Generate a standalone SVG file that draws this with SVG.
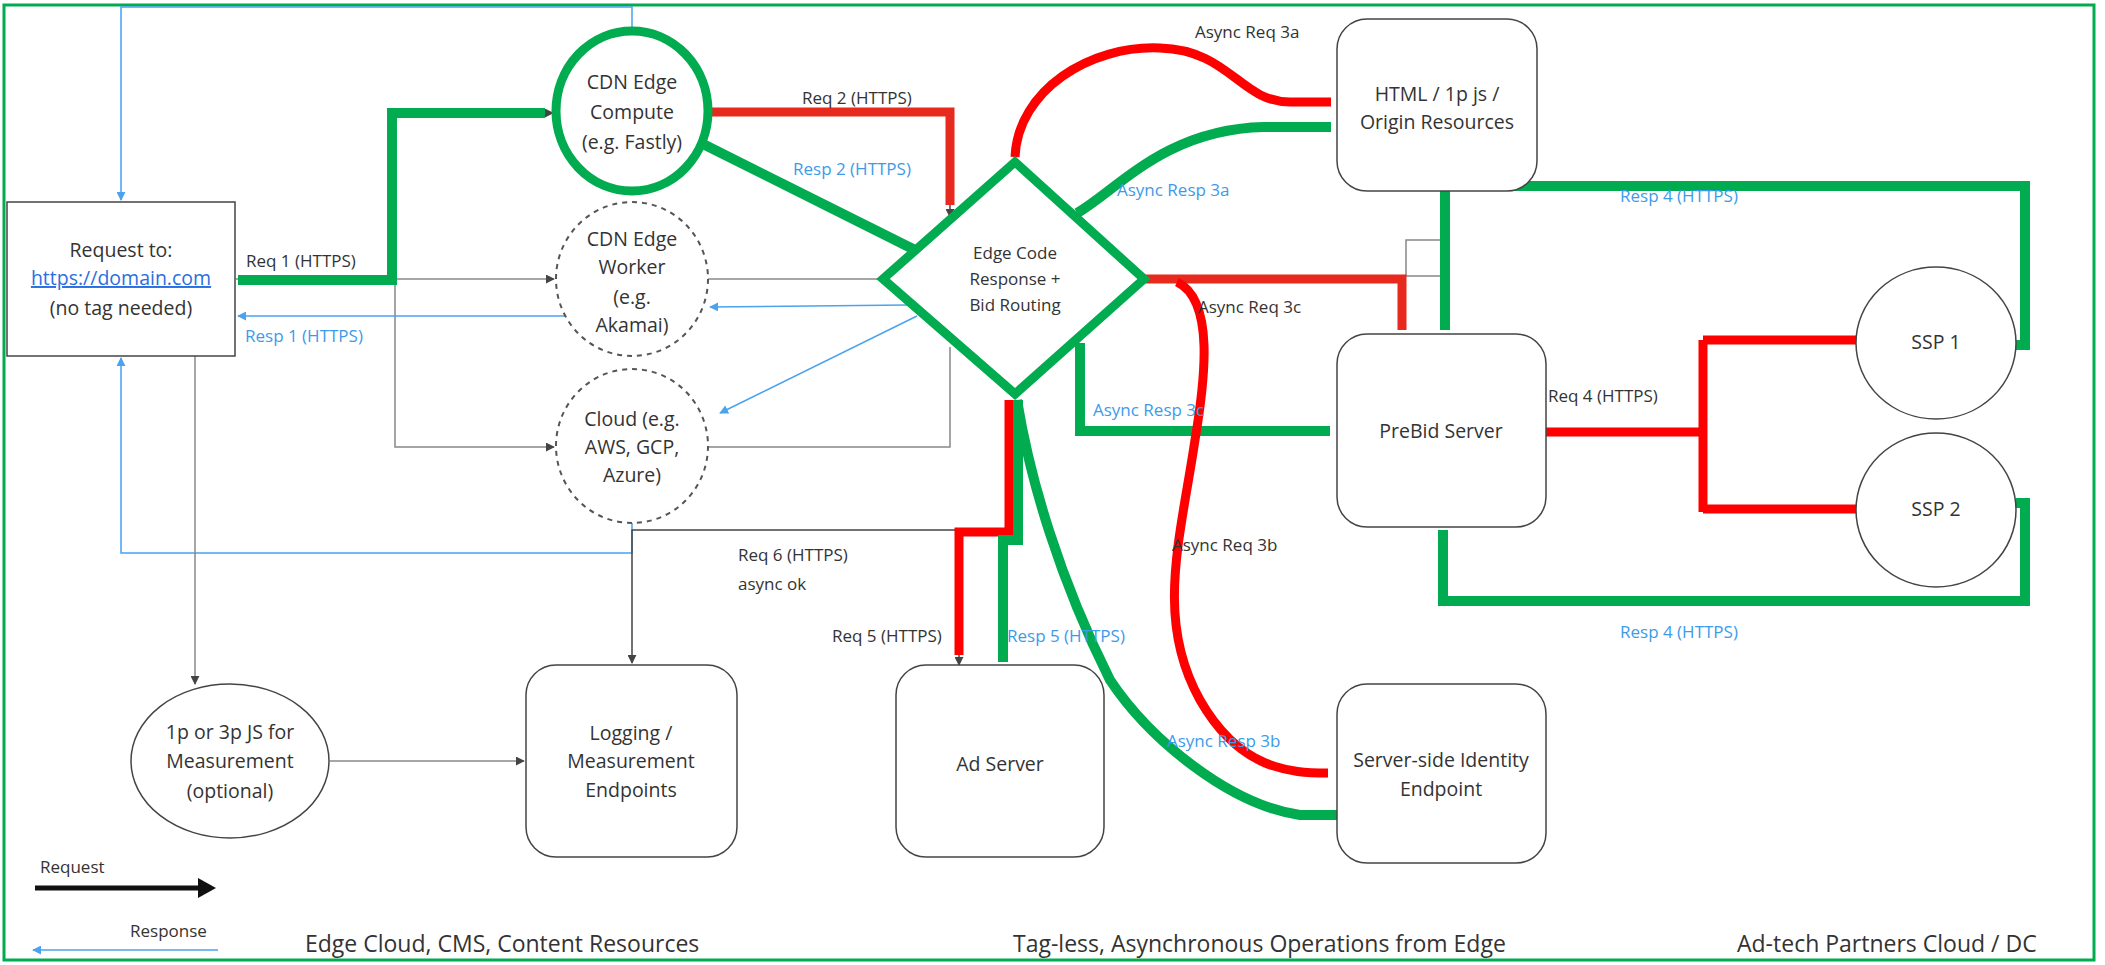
<svg xmlns="http://www.w3.org/2000/svg" width="2105" height="965" viewBox="0 0 2105 965">
<style>
text{font-family:"Open Sans","Liberation Sans",sans-serif;fill:#333}
.n{font-size:19.5px}
.l{font-size:17px}
.b{fill:#3d9be9}
.s{font-size:23px}
.node{fill:#fff;stroke:#444;stroke-width:1.5}
.dash{fill:#fff;stroke:#555;stroke-width:2;stroke-dasharray:5 5}
.g{fill:none;stroke:#00ac4f;stroke-width:10}
.r{fill:none;stroke:#f00;stroke-width:9}
.bl{fill:none;stroke:#4aa3ec;stroke-width:1.5}
.gr{fill:none;stroke:#888;stroke-width:1.5}
.dk{fill:none;stroke:#444;stroke-width:1.5}
</style>
<defs>
<marker id="ab" viewBox="0 0 10 10" refX="9" refY="5" markerWidth="6" markerHeight="6" orient="auto"><path d="M0,0L10,5L0,10z" fill="#4aa3ec"/></marker>
<marker id="ak" viewBox="0 0 10 10" refX="9" refY="5" markerWidth="6" markerHeight="6" orient="auto"><path d="M0,0L10,5L0,10z" fill="#444"/></marker>
</defs>
<rect x="4" y="5" width="2090" height="955" fill="#fff" stroke="#00ac4f" stroke-width="3"/>
<g id="connectors">
<path class="bl" d="M632,30V7H121V200" marker-end="url(#ab)"/>
<path class="gr" d="M236,279H554" marker-end="url(#ak)"/>
<path class="gr" d="M395,279V447H554" marker-end="url(#ak)"/>
<path class="gr" d="M708,279H883"/>
<path class="gr" d="M708,447H950V347"/>
<path class="gr" d="M1445,240H1406V276H1445"/>
<path class="bl" d="M565,316H238" marker-end="url(#ab)"/>
<path class="bl" d="M907,305L710,307" marker-end="url(#ab)"/>
<path class="bl" d="M917,316L720,413" marker-end="url(#ab)"/>
<path class="bl" d="M632,523V553H121V358" marker-end="url(#ab)"/>
<path class="dk" d="M955,530H632V663" marker-end="url(#ak)"/>
<path class="gr" d="M195,356V684" marker-end="url(#ak)"/>
<path class="gr" d="M330,761H524" marker-end="url(#ak)"/>
<path class="g" d="M238,280H392V113H545"/>
<path class="dk" d="M545,113H553" marker-end="url(#ak)"/>
<path class="r" d="M707,112H950V205" style="stroke:#e8291e"/>
<path class="dk" d="M950,205V217" marker-end="url(#ak)"/>
<path class="g" d="M705,145L915,250"/>
<path class="r" d="M1015,157C1018,90 1090,45 1160,48C1230,50 1240,102 1290,102L1331,102"/>
<path class="g" d="M1331,127H1264C1220,128 1190,140 1170,150C1130,170 1100,200 1077,213"/>
<path class="r" d="M1144,279H1402V330" style="stroke:#e8291e"/>
<path class="g" d="M1445,330V186H2025V345H2016"/>
<path class="r" d="M1546,432H1703M1703,340V512M1703,340H1856M1703,509H1856"/>
<path class="g" d="M1443,530V601H2025V503H2016"/>
<path class="g" d="M1330,431H1080V343"/>
<path class="r" d="M1177,282C1215,300 1205,380 1195,440C1180,540 1155,620 1200,700C1240,770 1290,773 1328,773"/>
<path class="g" d="M1337,815L1300,815C1230,805 1150,740 1110,680C1060,580 1030,480 1017,400"/>
<path class="r" d="M1009,400V532H959V655"/>
<path class="dk" d="M959,655V665" marker-end="url(#ak)"/>
<path class="g" d="M1003,662V540H1018V400"/>
<path d="M35,888H200" stroke="#111" stroke-width="5" fill="none"/>
<path d="M198,878L216,888L198,898z" fill="#111"/>
<path class="bl" d="M218,950H33" stroke-width="3" marker-end="url(#ab)"/>
</g>
<g id="request"><rect class="node" x="7" y="202" width="228" height="154" stroke-width="2"/>
<text class="n" x="121" y="257" text-anchor="middle">Request to:</text>
<text class="n" x="121" y="285" text-anchor="middle" style="fill:#2a6fe0;text-decoration:underline">https://domain.com</text>
<text class="n" x="121" y="315" text-anchor="middle">(no tag needed)</text></g>
<g id="cdn-compute"><ellipse cx="632" cy="111" rx="76" ry="80" fill="#fff" stroke="#00ac4f" stroke-width="9"/>
<text class="n" x="632" y="89" text-anchor="middle">CDN Edge</text><text class="n" x="632" y="119" text-anchor="middle">Compute</text><text class="n" x="632" y="149" text-anchor="middle">(e.g. Fastly)</text></g>
<g id="cdn-worker"><ellipse class="dash" cx="632" cy="279" rx="76" ry="77"/>
<text class="n" x="632" y="246" text-anchor="middle">CDN Edge</text><text class="n" x="632" y="274" text-anchor="middle">Worker</text><text class="n" x="632" y="304" text-anchor="middle">(e.g.</text><text class="n" x="632" y="332" text-anchor="middle">Akamai)</text></g>
<g id="cloud"><ellipse class="dash" cx="632" cy="446" rx="76" ry="77"/>
<text class="n" x="632" y="426" text-anchor="middle">Cloud (e.g.</text><text class="n" x="632" y="454" text-anchor="middle">AWS, GCP,</text><text class="n" x="632" y="482" text-anchor="middle">Azure)</text></g>
<g id="diamond"><path d="M1015,162L1144,279L1015,394L883,279z" fill="#fff" stroke="#00ac4f" stroke-width="9"/>
<text class="l" x="1015" y="259" text-anchor="middle">Edge Code</text><text class="l" x="1015" y="285" text-anchor="middle">Response +</text><text class="l" x="1015" y="311" text-anchor="middle">Bid Routing</text></g>
<g id="html"><rect class="node" x="1337" y="19" width="200" height="172" rx="30"/>
<text class="n" x="1437" y="101" text-anchor="middle">HTML / 1p js /</text><text class="n" x="1437" y="129" text-anchor="middle">Origin Resources</text></g>
<g id="prebid"><rect class="node" x="1337" y="334" width="209" height="193" rx="30"/>
<text class="n" x="1441" y="438" text-anchor="middle">PreBid Server</text></g>
<g id="ssp1"><ellipse class="node" cx="1936" cy="343" rx="80" ry="76"/><text class="n" x="1936" y="349" text-anchor="middle">SSP 1</text></g>
<g id="ssp2"><ellipse class="node" cx="1936" cy="510" rx="80" ry="77"/><text class="n" x="1936" y="516" text-anchor="middle">SSP 2</text></g>
<g id="identity"><rect class="node" x="1337" y="684" width="209" height="179" rx="30"/>
<text class="n" x="1441" y="767" text-anchor="middle">Server-side Identity</text><text class="n" x="1441" y="796" text-anchor="middle">Endpoint</text></g>
<g id="adserver"><rect class="node" x="896" y="665" width="208" height="192" rx="30"/>
<text class="n" x="1000" y="771" text-anchor="middle">Ad Server</text></g>
<g id="logging"><rect class="node" x="526" y="665" width="211" height="192" rx="30"/>
<text class="n" x="631" y="740" text-anchor="middle">Logging /</text><text class="n" x="631" y="768" text-anchor="middle">Measurement</text><text class="n" x="631" y="797" text-anchor="middle">Endpoints</text></g>
<g id="js"><ellipse class="node" cx="230" cy="761" rx="99" ry="77"/>
<text class="n" x="230" y="739" text-anchor="middle">1p or 3p JS for</text><text class="n" x="230" y="768" text-anchor="middle">Measurement</text><text class="n" x="230" y="798" text-anchor="middle">(optional)</text></g>
<g id="labels">
<text class="l" x="246" y="267">Req 1 (HTTPS)</text>
<text class="l b" x="245" y="342">Resp 1 (HTTPS)</text>
<text class="l" x="802" y="104">Req 2 (HTTPS)</text>
<text class="l b" x="793" y="175">Resp 2 (HTTPS)</text>
<text class="l" x="1195" y="38">Async Req 3a</text>
<text class="l b" x="1117" y="196">Async Resp 3a</text>
<text class="l" x="1198" y="313">Async Req 3c</text>
<text class="l b" x="1093" y="416">Async Resp 3c</text>
<text class="l b" x="1620" y="202">Resp 4 (HTTPS)</text>
<text class="l" x="1548" y="402">Req 4 (HTTPS)</text>
<text class="l b" x="1620" y="638">Resp 4 (HTTPS)</text>
<text class="l" x="1172" y="551">Async Req 3b</text>
<text class="l b" x="1167" y="747">Async Resp 3b</text>
<text class="l" x="738" y="561">Req 6 (HTTPS)</text>
<text class="l" x="738" y="590">async ok</text>
<text class="l" x="832" y="642">Req 5 (HTTPS)</text>
<text class="l b" x="1007" y="642">Resp 5 (HTTPS)</text>
<text class="l" x="40" y="873">Request</text>
<text class="l" x="130" y="937">Response</text>
<text class="s" x="305" y="952">Edge Cloud, CMS, Content Resources</text>
<text class="s" x="1013" y="952">Tag-less, Asynchronous Operations from Edge</text>
<text class="s" x="1737" y="952">Ad-tech Partners Cloud / DC</text>
</g>
</svg>
